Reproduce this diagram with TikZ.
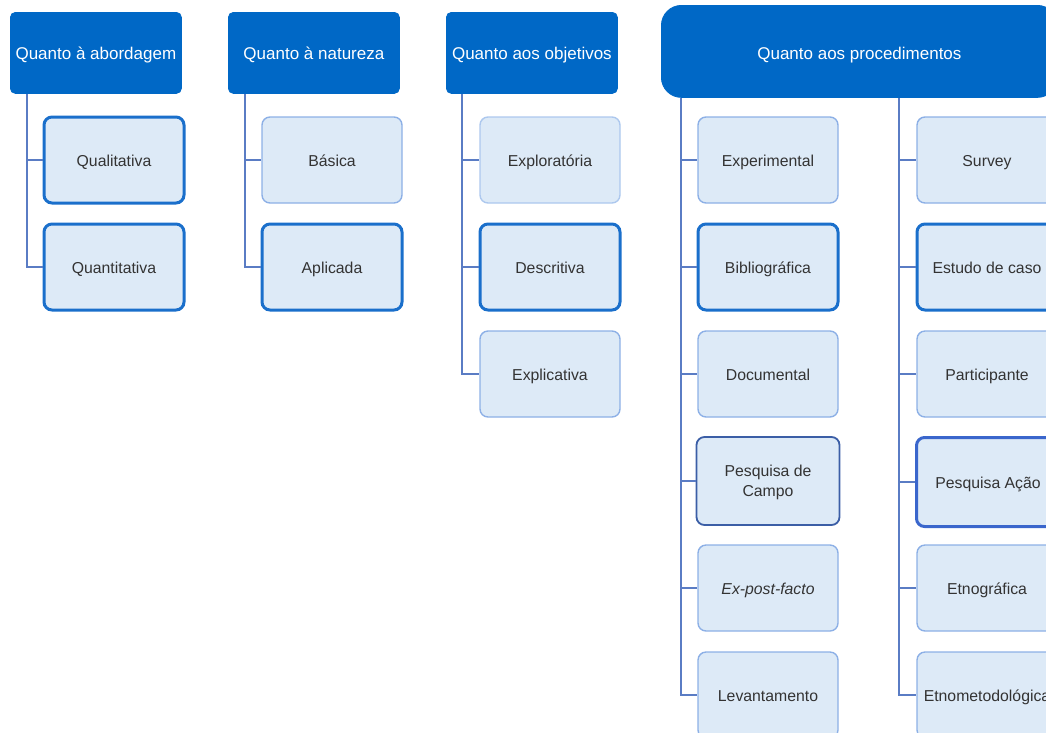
\documentclass[tikz,border=0pt]{standalone}
\usepackage{fontspec}
\setmainfont{Liberation Sans}
\definecolor{hdrblue}{HTML}{0068C6}
\definecolor{boxfill}{HTML}{DDEAF7}
\definecolor{thinedge}{HTML}{8DB0E6}
\definecolor{paleedge}{HTML}{ADC8EE}
\definecolor{boldedge}{HTML}{1A6FCB}
\definecolor{navyedge}{HTML}{3B5EA6}
\definecolor{royaledge}{HTML}{3A66CC}
\definecolor{linkblue}{HTML}{5A7CC4}
\definecolor{textgray}{HTML}{333333}
\tikzset{
  x=1pt, y=-1pt,
  header/.style={fill=hdrblue, draw=hdrblue, line width=0.8pt, rounded corners=5pt,
    text=white, font=\fontsize{17}{20}\selectfont, text height=13pt, text depth=0pt,
    minimum width=171pt, minimum height=81pt, inner sep=0pt, anchor=north west},
  item/.style={fill=boxfill, draw=thinedge, line width=1.4pt, rounded corners=8pt,
    text=textgray, font=\fontsize{15.8}{19.5}\selectfont, align=center,
    text height=12.5pt, text depth=0pt,
    minimum width=140pt, minimum height=86pt, inner sep=0pt},
  pale/.style={draw=paleedge},
  bold/.style={draw=boldedge, line width=3pt},
  navy/.style={draw=navyedge, line width=1.8pt, minimum width=143pt, minimum height=88pt},
  royal/.style={draw=royaledge, line width=3pt, minimum width=143pt, minimum height=89pt},
  link/.style={draw=linkblue, line width=1.4pt},
}
\begin{document}
\begin{tikzpicture}
\useasboundingbox (0,0) rectangle (1046,732);
\clip (0,0) rectangle (1046,732);

% column heads
\node[header] (h1) at (10,12) {Quanto à abordagem};
\node[header] (h2) at (228,12) {Quanto à natureza};
\node[header] (h3) at (446,12) {Quanto aos objetivos};
\node[header, rounded corners=20pt, minimum width=396pt, minimum height=92pt,
      text height=16pt] (h4) at (661,5) {Quanto aos procedimentos};

% abordagem
\node[item, bold] (qual) at (114,160) {Qualitativa};
\node[item, bold] (quant) at (114,267) {Quantitativa};
% natureza
\node[item] (bas) at (332,160) {Básica};
\node[item, bold] (apl) at (332,267) {Aplicada};
% objetivos
\node[item, pale] (expl) at (550,160) {Exploratória};
\node[item, bold] (desc) at (550,267) {Descritiva};
\node[item] (expc) at (550,374) {Explicativa};
% procedimentos, first column
\node[item] (exper) at (768,160) {Experimental};
\node[item, bold] (bib) at (768,267) {Bibliográfica};
\node[item] (doc) at (768,374) {Documental};
\node[item, navy, text height=] (campo) at (768,481) {Pesquisa de\\Campo};
\node[item] (expf) at (768,588) {\itshape Ex-post-facto};
\node[item] (lev) at (768,695) {Levantamento};
% procedimentos, second column
\node[item] (surv) at (987,160) {Survey};
\node[item, bold] (caso) at (987,267) {Estudo de caso};
\node[item] (part) at (987,374) {Participante};
\node[item, royal] (acao) at (988,482) {Pesquisa Ação};
\node[item] (etno) at (987,588) {Etnográfica};
\node[item] (etnm) at (987,695) {Etnometodológica};

% trunk lines
\coordinate (t1) at ([xshift=17pt]h1.south west);
\coordinate (t2) at ([xshift=17pt]h2.south west);
\coordinate (t3) at ([xshift=16pt]h3.south west);
\coordinate (t4) at ([xshift=20pt]h4.south west);
\coordinate (t5) at ([xshift=238pt]h4.south west);

\draw[link] (t1) |- (quant.west);
\draw[link] (t1 |- qual.west) -- (qual.west);
\draw[link] (t2) |- (apl.west);
\draw[link] (t2 |- bas.west) -- (bas.west);
\draw[link] (t3) |- (expc.west);
\foreach \n in {expl,desc} \draw[link] (t3 |- \n.west) -- (\n.west);
\draw[link] (t4) |- (lev.west);
\foreach \n in {exper,bib,doc,campo,expf} \draw[link] (t4 |- \n.west) -- (\n.west);
\draw[link] (t5) |- (etnm.west);
\foreach \n in {surv,caso,part,acao,etno} \draw[link] (t5 |- \n.west) -- (\n.west);
\end{tikzpicture}
\end{document}
